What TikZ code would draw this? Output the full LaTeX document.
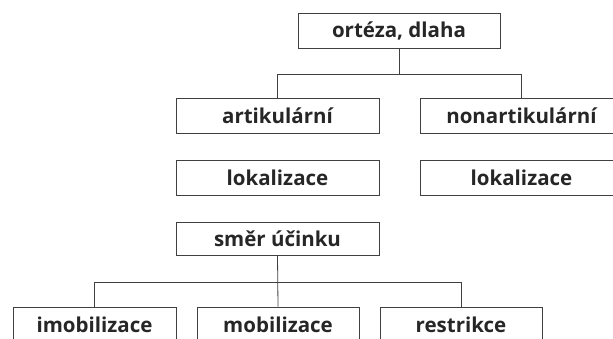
\documentclass[tikz,border=0pt]{standalone}
\usepackage{fontspec}
\setmainfont{Open Sans}
\usetikzlibrary{calc}
\begin{document}
\begin{tikzpicture}[x=1pt,y=-1pt,
  box/.style={draw=black!75, line width=0.8pt, minimum height=35pt, inner sep=0pt,
    font=\fontsize{20.5}{24}\selectfont\bfseries, text=black!85},
  conn/.style={draw=black!75, line width=0.8pt}]
\useasboundingbox (0,0) rectangle (613,338);
\clip (0,0) rectangle (613,338);
\node[box, minimum width=202pt] (top) at (399,30.5) {ortéza, dlaha};
\node[box, minimum width=203pt] (art) at (277.5,115.5) {artikulární};
\node[box, minimum width=203pt] (non) at (521.5,115.5) {nonartikulární};
\node[box, minimum width=203pt] (lok1) at (277.5,177.5) {lokalizace};
\node[box, minimum width=203pt] (lok2) at (521.5,177.5) {lokalizace};
\node[box, minimum width=203pt, minimum height=33pt] (smer) at (277.5,238.5) {směr účinku};
\node[box, minimum width=163pt] (imob) at (94.5,324.5) {imobilizace};
\node[box, minimum width=162pt] (mob) at (278,324.5) {mobilizace};
\node[box, minimum width=162pt] (res) at (461,324.5) {restrikce};
\coordinate (b1) at ($(top.south)+(0,26)$);
\coordinate (b2) at ($(smer.south)+(0,27)$);
\draw[conn] (top.south) -- (b1);
\draw[conn] (art.north) |- (b1) -| (non.north);
\draw[conn] (smer.south) -- (mob.north);
\draw[conn] (imob.north) |- (b2) -| (res.north);
\end{tikzpicture}
\end{document}
